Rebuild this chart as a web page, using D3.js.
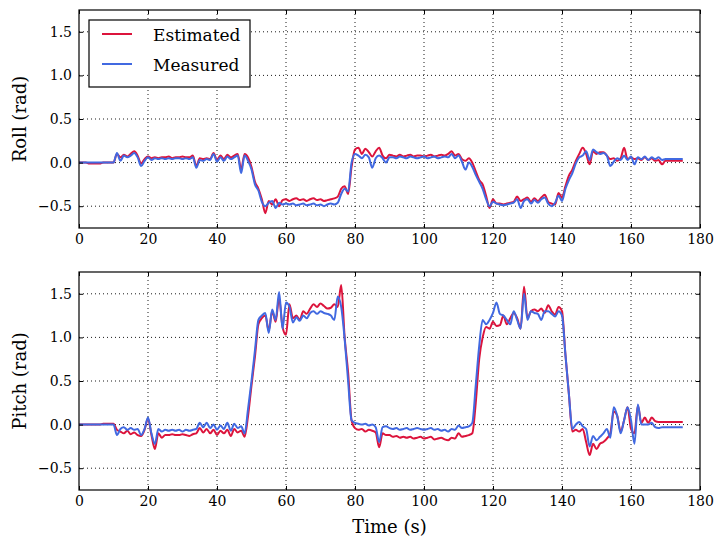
<!DOCTYPE html>
<meta charset="utf-8">
<style>
body { margin: 0; background: #fff; }
text { font-family: 'DejaVu Serif', serif; fill: #000; }
.tick line { stroke: #000; stroke-width: 1; }
.grid line { stroke: #000; stroke-width: 0.9; stroke-dasharray: 1,3; }
.frame { fill: none; stroke: #000; stroke-width: 1.2; }
.series { fill: none; stroke-width: 2; stroke-linejoin: round; }
</style>
<body>
<script src="https://d3js.org/d3.v7.min.js"></script>
<script>

	// sample times (s), one reading per second
	var time = d3.range(0, 176);

	var rollEst = [
		0.00,0.00,0.00,-0.01,-0.01,-0.01,-0.01,0.00,0.00,0.00,
		0.00,0.10,0.06,0.09,0.07,0.10,0.13,0.08,-0.01,0.04,
		0.07,0.05,0.06,0.05,0.06,0.06,0.07,0.05,0.06,0.06,
		0.07,0.06,0.06,0.08,-0.04,0.05,0.04,0.05,0.04,0.11,
		0.03,0.08,0.04,0.09,0.06,0.08,0.10,-0.08,0.10,0.06,
		-0.05,-0.22,-0.30,-0.42,-0.58,-0.44,-0.48,-0.42,-0.50,-0.43,
		-0.42,-0.44,-0.42,-0.41,-0.43,-0.42,-0.44,-0.42,-0.41,-0.43,
		-0.42,-0.44,-0.43,-0.42,-0.41,-0.39,-0.30,-0.27,-0.36,-0.05,
		0.15,0.17,0.10,0.16,0.12,0.07,0.13,0.17,0.08,0.05,
		0.09,0.08,0.07,0.09,0.07,0.08,0.09,0.07,0.08,0.08,
		0.07,0.08,0.09,0.07,0.08,0.09,0.08,0.10,0.13,0.08,
		0.10,0.04,0.02,0.05,0.00,-0.10,-0.20,-0.25,-0.38,-0.52,
		-0.42,-0.47,-0.47,-0.48,-0.47,-0.46,-0.45,-0.39,-0.44,-0.42,
		-0.40,-0.45,-0.41,-0.44,-0.40,-0.37,-0.45,-0.47,-0.48,-0.35,
		-0.40,-0.27,-0.15,-0.08,0.02,0.10,0.17,0.10,-0.02,0.13,
		0.10,0.12,0.12,0.08,0.04,0.05,0.02,0.05,0.17,0.04,
		0.06,0.04,0.05,0.03,0.06,0.03,0.05,0.02,0.03,-0.02,
		0.02,0.02,0.02,0.02,0.02,0.02
	];

	var rollMeas = [
		0.00,0.00,0.00,0.00,0.00,0.00,0.00,0.00,0.00,0.00,
		0.00,0.11,0.02,0.08,0.06,0.08,0.11,0.06,-0.04,0.02,
		0.06,0.03,0.05,0.04,0.05,0.04,0.05,0.04,0.05,0.05,
		0.04,0.05,0.04,0.06,-0.06,0.03,0.02,0.04,0.03,0.10,
		0.01,0.06,0.02,0.07,0.04,0.06,0.08,-0.12,0.08,0.02,
		-0.08,-0.25,-0.32,-0.45,-0.50,-0.46,-0.44,-0.52,-0.46,-0.48,
		-0.47,-0.48,-0.47,-0.49,-0.48,-0.47,-0.49,-0.48,-0.47,-0.49,
		-0.48,-0.50,-0.48,-0.47,-0.48,-0.46,-0.36,-0.30,-0.33,0.00,
		0.10,0.08,0.05,0.09,0.06,-0.06,0.05,0.08,0.05,0.00,
		0.06,0.06,0.05,0.07,0.06,0.05,0.07,0.06,0.05,0.06,
		0.07,0.05,0.06,0.07,0.05,0.06,0.07,0.06,0.10,0.05,
		0.08,0.01,-0.08,0.00,-0.05,-0.14,-0.22,-0.30,-0.42,-0.50,
		-0.45,-0.47,-0.48,-0.49,-0.48,-0.47,-0.46,-0.42,-0.52,-0.44,
		-0.42,-0.47,-0.43,-0.46,-0.42,-0.40,-0.47,-0.50,-0.46,-0.38,
		-0.44,-0.30,-0.20,-0.12,-0.01,0.06,0.08,0.13,0.03,0.15,
		0.12,0.10,0.11,0.08,-0.04,0.01,0.05,0.03,0.08,0.03,
		0.07,-0.02,0.06,0.04,0.07,0.03,0.06,0.04,0.06,0.03,
		0.04,0.04,0.04,0.04,0.04,0.04
	];

	var pitchEst = [
		0.00,0.00,0.00,0.00,0.00,0.00,0.00,0.01,0.01,0.01,
		0.01,-0.06,-0.08,-0.10,-0.07,-0.11,-0.09,-0.12,-0.13,-0.06,
		0.07,-0.12,-0.28,-0.10,-0.15,-0.12,-0.12,-0.11,-0.12,-0.12,
		-0.11,-0.12,-0.13,-0.11,-0.10,-0.04,-0.09,-0.05,-0.10,-0.06,
		-0.12,-0.07,-0.10,-0.06,-0.13,-0.05,-0.09,-0.07,-0.14,0.10,
		0.45,0.78,1.15,1.22,1.25,1.08,1.30,1.18,1.45,1.12,
		1.03,1.38,1.22,1.25,1.20,1.30,1.27,1.33,1.38,1.35,
		1.39,1.36,1.33,1.34,1.38,1.35,1.60,1.00,0.60,0.05,
		-0.04,-0.06,-0.05,-0.08,-0.06,-0.07,-0.09,-0.26,-0.10,-0.12,
		-0.12,-0.14,-0.13,-0.15,-0.14,-0.15,-0.14,-0.16,-0.15,-0.14,
		-0.16,-0.15,-0.14,-0.17,-0.16,-0.15,-0.17,-0.18,-0.15,-0.16,
		-0.10,-0.14,-0.13,-0.12,-0.10,0.25,0.75,1.00,1.12,1.10,
		1.18,1.13,1.14,1.25,1.15,1.22,1.28,1.22,1.10,1.58,
		1.22,1.30,1.32,1.30,1.33,1.28,1.37,1.30,1.26,1.35,
		1.30,0.80,0.35,-0.08,-0.06,-0.08,-0.05,-0.20,-0.35,-0.22,
		-0.28,-0.22,-0.20,-0.16,-0.10,0.15,0.10,-0.08,0.05,0.20,
		-0.05,-0.10,0.22,0.02,0.08,0.02,0.08,0.04,0.03,0.03,
		0.03,0.03,0.03,0.03,0.03,0.03
	];

	var pitchMeas = [
		0.00,0.00,0.00,0.00,0.00,0.00,0.00,0.00,0.00,0.00,
		0.00,-0.12,-0.05,-0.03,-0.06,-0.04,-0.06,-0.05,-0.12,-0.05,
		0.08,-0.10,-0.22,-0.05,-0.08,-0.06,-0.07,-0.06,-0.07,-0.06,
		-0.08,-0.06,-0.07,-0.06,-0.05,0.02,-0.03,0.02,-0.04,0.00,
		-0.06,-0.01,-0.05,0.02,-0.07,0.01,-0.04,-0.02,-0.10,0.18,
		0.50,0.85,1.20,1.25,1.28,1.05,1.32,1.20,1.52,1.10,
		1.40,1.35,1.17,1.23,1.19,1.25,1.22,1.28,1.30,1.27,
		1.30,1.28,1.27,1.25,1.20,1.47,1.35,0.98,0.50,0.05,
		0.02,0.01,0.00,0.01,-0.01,0.00,-0.03,-0.20,-0.03,-0.02,
		-0.04,-0.05,-0.04,-0.06,-0.05,-0.04,-0.06,-0.05,-0.04,-0.05,
		-0.06,-0.05,-0.04,-0.06,-0.05,-0.07,-0.06,-0.08,-0.05,-0.06,
		-0.01,-0.04,-0.03,-0.02,0.02,0.45,0.90,1.20,1.15,1.20,
		1.28,1.40,1.27,1.25,1.20,1.15,1.30,1.20,1.10,1.50,
		1.20,1.30,1.28,1.27,1.20,1.30,1.30,1.27,1.24,1.30,
		1.25,0.80,0.35,-0.05,0.00,0.03,-0.02,-0.05,-0.25,-0.13,
		-0.18,-0.14,-0.10,-0.05,-0.15,0.20,0.10,-0.10,0.05,0.20,
		0.05,-0.22,0.23,0.00,0.00,0.00,0.02,-0.03,-0.04,-0.03,
		-0.03,-0.03,-0.03,-0.03,-0.03,-0.03
	];

	var xTicks = [0, 20, 40, 60, 80, 100, 120, 140, 160, 180];
	var yTicks = [-0.5, 0.0, 0.5, 1.0, 1.5];
	var seriesNames = ["Estimated", "Measured"];
	var colours = ["#dc143c", "#4169e1"];

	var width = 721,
		height = 551;

	var left = 79, right = 700;
	var tickFont = "14px";
	var labelFont = "18px";
	var panels = [
		{label: "Roll (rad)", est: rollEst, meas: rollMeas, top: 10, bottom: 228},
		{label: "Pitch (rad)", est: pitchEst, meas: pitchMeas, top: 272, bottom: 490}
	];

	var svg = d3.select("body").append("svg")
		.attr("width", width)
		.attr("height", height);

	var x = d3.scaleLinear()
		.domain([0, 180])
		.range([left, right]);

	var fmt = d3.format(".1f");

	panels.forEach(function(p) {

		var y = d3.scaleLinear()
			.domain([-0.75, 1.75])
			.range([p.bottom, p.top]);

		var g = svg.append("g");

		//grid
		var grid = g.append("g").attr("class", "grid");
		grid.selectAll(".gx").data(xTicks.slice(1, -1)).enter().append("line")
			.attr("x1", function(d) { return x(d); })
			.attr("x2", function(d) { return x(d); })
			.attr("y1", p.top)
			.attr("y2", p.bottom);
		grid.selectAll(".gy").data(yTicks).enter().append("line")
			.attr("x1", left)
			.attr("x2", right)
			.attr("y1", function(d) { return y(d); })
			.attr("y2", function(d) { return y(d); });

		var line = d3.line()
			.x(function(d, i) { return x(time[i]); })
			.y(function(d) { return y(d); })
			.curve(d3.curveMonotoneX);

		g.append("path")
			.attr("class", "series")
			.attr("d", line(p.est))
			.style("stroke", colours[0]);

		g.append("path")
			.attr("class", "series")
			.attr("d", line(p.meas))
			.style("stroke", colours[1]);

		//axes with inward ticks on all four sides
		var xb = g.append("g")
			.attr("transform", "translate(0," + p.bottom + ")")
			.call(d3.axisBottom(x).tickValues(xTicks).tickSizeInner(-4).tickSizeOuter(0).tickPadding(6));
		var yl = g.append("g")
			.attr("transform", "translate(" + left + ",0)")
			.call(d3.axisLeft(y).tickValues(yTicks).tickFormat(fmt).tickSizeInner(-4).tickSizeOuter(0).tickPadding(7));
		var xt = g.append("g")
			.attr("transform", "translate(0," + p.top + ")")
			.call(d3.axisTop(x).tickValues(xTicks).tickFormat("").tickSizeInner(-4).tickSizeOuter(0));
		var yr = g.append("g")
			.attr("transform", "translate(" + right + ",0)")
			.call(d3.axisRight(y).tickValues(yTicks).tickFormat("").tickSizeInner(-4).tickSizeOuter(0));
		[xb, yl, xt, yr].forEach(function(a) {
			a.select(".domain").remove();
			a.attr("font-family", null).attr("font-size", null);
			a.selectAll("text").style("font-size", tickFont);
		});

		g.append("rect")
			.attr("class", "frame")
			.attr("x", left)
			.attr("y", p.top)
			.attr("width", right - left)
			.attr("height", p.bottom - p.top);

		//y label
		g.append("text")
			.attr("transform", "translate(26," + ((p.top + p.bottom) / 2) + ") rotate(-90)")
			.attr("text-anchor", "middle")
			.style("font-size", labelFont)
			.text(p.label);
	});

	//x label
	svg.append("text")
		.attr("x", (left + right) / 2)
		.attr("y", 533)
		.attr("text-anchor", "middle")
		.style("font-size", labelFont)
		.text("Time (s)");

	//legend
	var legend = svg.append("g");
	legend.append("rect")
		.attr("x", 89)
		.attr("y", 20)
		.attr("width", 161)
		.attr("height", 67)
		.style("fill", "#fff")
		.style("stroke", "#000")
		.style("stroke-width", 1.2);

	seriesNames.forEach(function(name, i) {
		legend.append("line")
			.attr("x1", 102)
			.attr("x2", 132)
			.attr("y1", 34 + i * 30)
			.attr("y2", 34 + i * 30)
			.style("stroke", colours[i])
			.style("stroke-width", 2);
		legend.append("text")
			.attr("x", 153)
			.attr("y", 41 + i * 30)
			.style("font-size", "17px")
			.text(name);
	});

</script>
</body>
